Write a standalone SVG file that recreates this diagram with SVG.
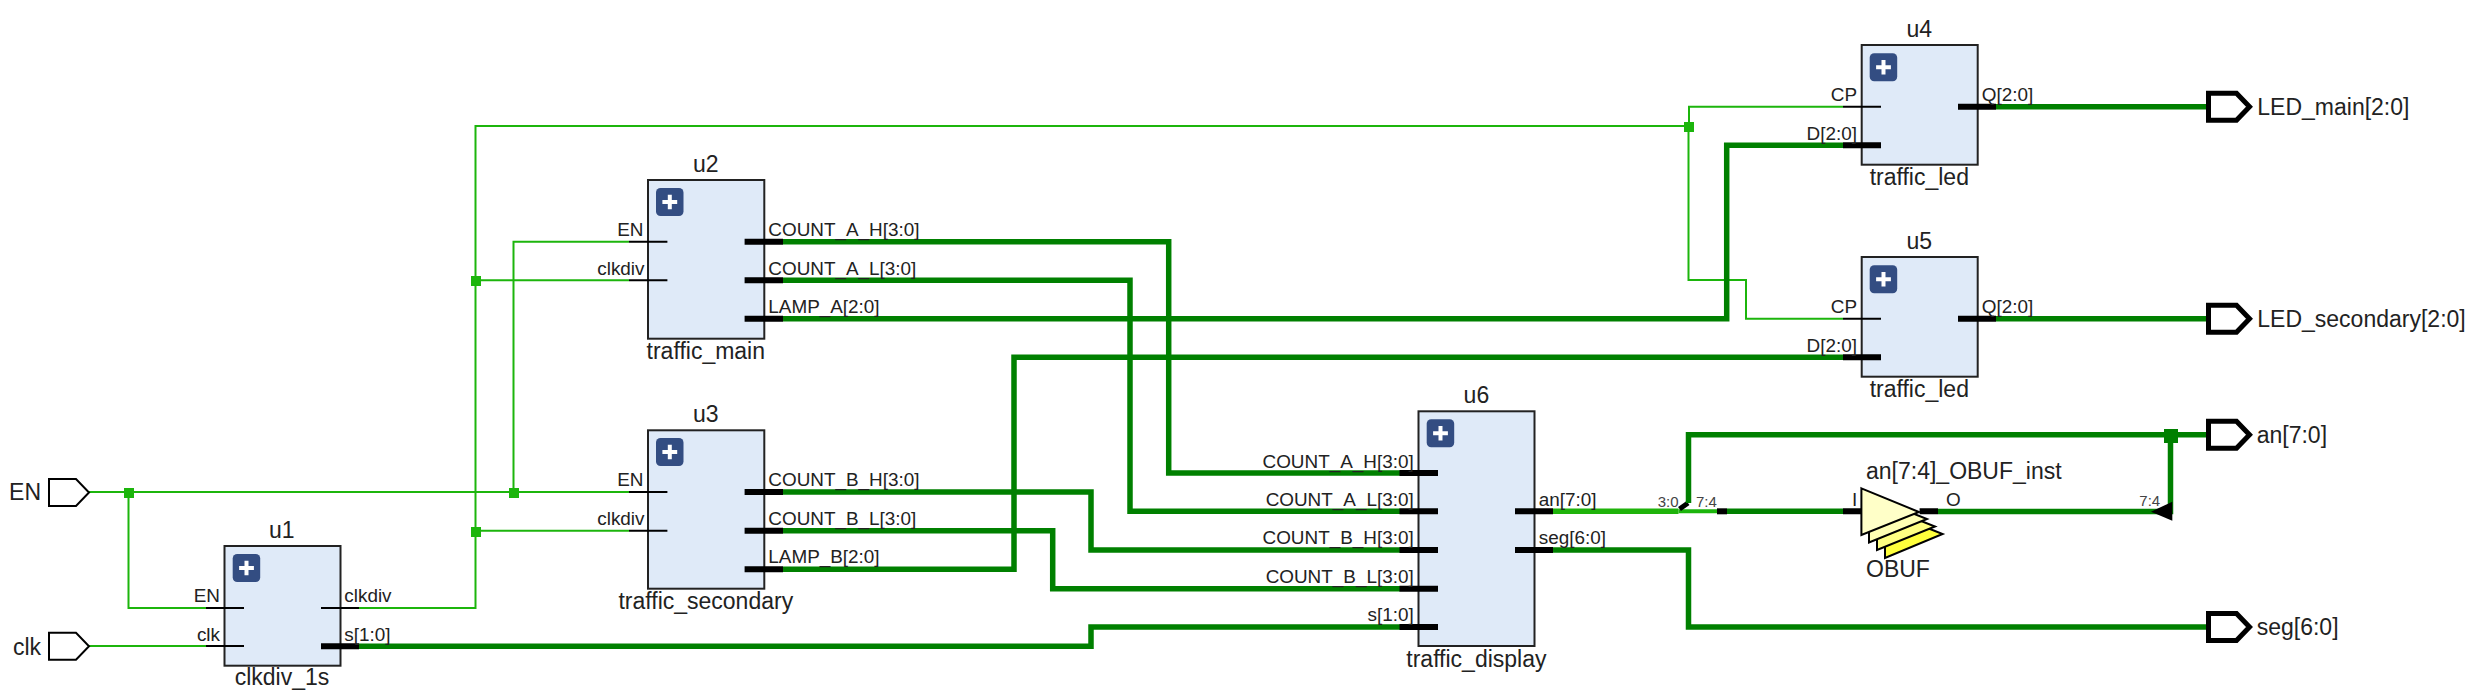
<svg xmlns="http://www.w3.org/2000/svg" xmlns:xlink="http://www.w3.org/1999/xlink" width="2482" height="700" viewBox="0 0 2482 700">
<style>
text{font-family:"Liberation Sans",Arial,sans-serif;fill:#222}
.big{font-size:23px}
.pin{font-size:18.9px}
.small{font-size:15px;fill:#444}
.r{text-anchor:end}
.m{text-anchor:middle}
.box{fill:#dfeaf8;stroke:#222;stroke-width:2}
.thin{fill:none;stroke:#1cb50c;stroke-width:2}
.bus{fill:none;stroke:#008000;stroke-width:5.5}
.lbus{fill:none;stroke:#1fb30b;stroke-width:5.5}
.s1{stroke:#000;stroke-width:2;fill:none}
.s2{stroke:#000;stroke-width:6;fill:none}
.port{fill:#fff;stroke:#000;stroke-width:2}
.oport{fill:#fff;stroke:#000;stroke-width:5}
.btn{fill:#334d82}
.plus{fill:#fff}
.tri{stroke:#000;stroke-width:2}
</style>
<defs>
<g id="plus"><rect class="btn" width="27.5" height="28" rx="4.5"/><path class="plus" d="M11.8 6.8h4v5.2h5.4v4h-5.4v5.2h-4v-5.2H6.400v-4h5.400z"/></g>
<polygon id="ip" class="port" points="-40,-13.5 -13,-13.5 0,0 -13,13.5 -40,13.5"/>
<polygon id="op" class="oport" points="0,-13.5 28,-13.5 41,0 28,13.5 0,13.5"/>
</defs>
<g id="connectors">
<path class="thin" d="M89 492H629"/>
<path class="thin" d="M128.500 492V608H206"/>
<path class="thin" d="M89 646H206"/>
<path class="thin" d="M359 608H475.500V126H1689V106.700H1843"/>
<path class="thin" d="M1688.500 126V280H1746V318.700H1843"/>
<path class="thin" d="M475.500 280.300H629"/>
<path class="thin" d="M475.500 530.700H629"/>
<path class="thin" d="M513.500 492V241.700H629"/>
<path class="bus" d="M783 241.700H1168.700V473H1400"/>
<path class="bus" d="M783 280.300H1130V511.300H1400"/>
<path class="bus" d="M783 318.700H1726.700V145.300H1843"/>
<path class="bus" d="M783 492H1091V550H1400"/>
<path class="bus" d="M783 530.700H1052.700V588.700H1400"/>
<path class="bus" d="M783 569.300H1014V357.300H1843"/>
<path class="bus" d="M359 646.300H1091V627H1400"/>
<path class="lbus" d="M1553 511.300H1678.500"/>
<path class="thin" style="stroke-width:4" d="M1678.500 511.300H1717"/>
<path class="s2" d="M1717 511.300H1727"/>
<path class="bus" d="M1727 511.300H1843"/>
<path class="s2" style="stroke-width:5" d="M1679.500 509L1688 503"/>
<path class="bus" d="M1688.500 503V434.700H2208"/>
<path class="bus" d="M1553 550H1688.500V627H2208"/>
<path class="bus" d="M1938 511.500H2170.500V434.700"/>
<path class="bus" d="M1996 106.700H2208"/>
<path class="bus" d="M1996 318.700H2208"/>
<rect x="124" y="488" width="10" height="10" fill="#1cb50c"/>
<rect x="471" y="527" width="10" height="10" fill="#1cb50c"/>
<rect x="471" y="276" width="10" height="10" fill="#1cb50c"/>
<rect x="509" y="488" width="10" height="10" fill="#1cb50c"/>
<rect x="1684" y="122" width="10" height="10" fill="#1cb50c"/>
<rect x="2164" y="429" width="14" height="14" fill="#008000"/>
<polygon points="2172.300,501.700 2172.300,520.700 2151,511.700" fill="#000"/>
<text class="small r" x="1678.500" y="506.500">3:0</text>
<text class="small" x="1696" y="506.500">7:4</text>
<text class="small" x="2139.300" y="506">7:4</text>
</g>
<g id="EN"><use xlink:href="#ip" x="89" y="492.500"/><text class="big r" x="41" y="500">EN</text></g>
<g id="clk"><use xlink:href="#ip" x="89" y="646.300"/><text class="big r" x="41" y="655">clk</text></g>
<g id="u1">
<rect class="box" x="224.500" y="546" width="116" height="119.700"/>
<use xlink:href="#plus" x="232.700" y="554"/>
<path class="s1" d="M206 608H244M321 608H359"/><path class="s1" d="M206 646H244"/><path class="s2" d="M321 646.300H359"/>
<text class="big m" x="281.700" y="537.700">u1</text>
<text class="big m" x="282" y="685">clkdiv_1s</text>
<text class="pin r" x="220" y="601.700">EN</text><text class="pin r" x="220" y="641">clk</text>
<text class="pin" x="344.300" y="601.700">clkdiv</text><text class="pin" x="344.300" y="641">s[1:0]</text>
</g>
<g id="u2">
<rect class="box" x="648" y="180" width="116.300" height="158.700"/>
<use xlink:href="#plus" x="656" y="188"/>
<path class="s1" d="M629 241.700H667.400M629 280.300H667.400"/>
<path class="s2" d="M744.600 241.700H783M744.600 280.300H783M744.600 318.700H783"/>
<text class="big m" x="705.800" y="171.700">u2</text>
<text class="big m" x="705.800" y="358.700">traffic_main</text>
<text class="pin r" x="643.500" y="236">EN</text><text class="pin r" x="644.500" y="275">clkdiv</text>
<text class="pin" x="768.300" y="236">COUNT_A_H[3:0]</text><text class="pin" x="768.300" y="275">COUNT_A_L[3:0]</text><text class="pin" x="768.300" y="313">LAMP_A[2:0]</text>
</g>
<g id="u3">
<rect class="box" x="648" y="430.300" width="116.300" height="158.400"/>
<use xlink:href="#plus" x="656" y="438"/>
<path class="s1" d="M629 492H667.400M629 530.700H667.400"/>
<path class="s2" d="M744.600 492H783M744.600 530.700H783M744.600 569.300H783"/>
<text class="big m" x="705.800" y="421.700">u3</text>
<text class="big m" x="705.800" y="608.700">traffic_secondary</text>
<text class="pin r" x="643.500" y="486">EN</text><text class="pin r" x="644.500" y="525">clkdiv</text>
<text class="pin" x="768.300" y="486">COUNT_B_H[3:0]</text><text class="pin" x="768.300" y="525">COUNT_B_L[3:0]</text><text class="pin" x="768.300" y="563.300">LAMP_B[2:0]</text>
</g>
<g id="u4">
<rect class="box" x="1861.700" y="45" width="116" height="119.700"/>
<use xlink:href="#plus" x="1869.700" y="53.300"/>
<path class="s1" d="M1843 106.700H1881"/><path class="s2" d="M1843 145.300H1881M1958 106.700H1996"/>
<text class="big m" x="1919.300" y="36.700">u4</text>
<text class="big m" x="1919.300" y="185">traffic_led</text>
<text class="pin r" x="1857" y="101">CP</text><text class="pin r" x="1857" y="140">D[2:0]</text>
<text class="pin" x="1981.700" y="101">Q[2:0]</text>
</g>
<g id="u5">
<rect class="box" x="1861.700" y="257" width="116" height="119.700"/>
<use xlink:href="#plus" x="1869.700" y="265.300"/>
<path class="s1" d="M1843 318.700H1881"/><path class="s2" d="M1843 357.300H1881M1958 318.700H1996"/>
<text class="big m" x="1919.300" y="248.700">u5</text>
<text class="big m" x="1919.300" y="396.700">traffic_led</text>
<text class="pin r" x="1857" y="312.700">CP</text><text class="pin r" x="1857" y="352">D[2:0]</text>
<text class="pin" x="1981.700" y="312.700">Q[2:0]</text>
</g>
<g id="u6">
<rect class="box" x="1418.500" y="411.300" width="116" height="234.700"/>
<use xlink:href="#plus" x="1426.700" y="419.300"/>
<path class="s2" d="M1399.500 473H1438M1399.500 511.300H1438M1399.500 550H1438M1399.500 588.700H1438M1399.500 627H1438M1515 511.300H1553M1515 550H1553"/>
<text class="big m" x="1476.400" y="402.700">u6</text>
<text class="big m" x="1476.400" y="666.700">traffic_display</text>
<text class="pin r" x="1413.700" y="467.700">COUNT_A_H[3:0]</text><text class="pin r" x="1413.700" y="506">COUNT_A_L[3:0]</text><text class="pin r" x="1413.700" y="544.300">COUNT_B_H[3:0]</text><text class="pin r" x="1413.700" y="582.700">COUNT_B_L[3:0]</text><text class="pin r" x="1413.700" y="621">s[1:0]</text>
<text class="pin" x="1538.800" y="506">an[7:0]</text><text class="pin" x="1538.800" y="544.300">seg[6:0]</text>
</g>
<g id="OBUF">
<path class="s2" d="M1843 511.300H1862M1919.600 511.300H1938"/>
<polygon class="tri" fill="#ffff3c" points="1885,511 1942.600,534 1885,558"/>
<polygon class="tri" fill="#ffff82" points="1877,503.500 1935,526.500 1877,550"/>
<polygon class="tri" fill="#ffffb4" points="1869,496 1927,519 1869,542.500"/>
<polygon class="tri" fill="#ffffc8" points="1861.400,488.300 1919,512 1861.400,535"/>
<text class="pin m" x="1854.500" y="506">I</text>
<text class="pin" x="1946" y="506">O</text>
<text class="big" x="1866" y="479.300">an[7:4]_OBUF_inst</text>
<text class="big" x="1866" y="576.700">OBUF</text>
</g>
<g id="LED_main"><use xlink:href="#op" x="2208.500" y="106.700"/><text class="big" x="2257.300" y="115">LED_main[2:0]</text></g>
<g id="LED_secondary"><use xlink:href="#op" x="2208.500" y="318.700"/><text class="big" x="2257.300" y="327">LED_secondary[2:0]</text></g>
<g id="an"><use xlink:href="#op" x="2208.500" y="434.700"/><text class="big" x="2256.700" y="442.700">an[7:0]</text></g>
<g id="seg"><use xlink:href="#op" x="2208.500" y="627"/><text class="big" x="2256.700" y="634.700">seg[6:0]</text></g>
</svg>
